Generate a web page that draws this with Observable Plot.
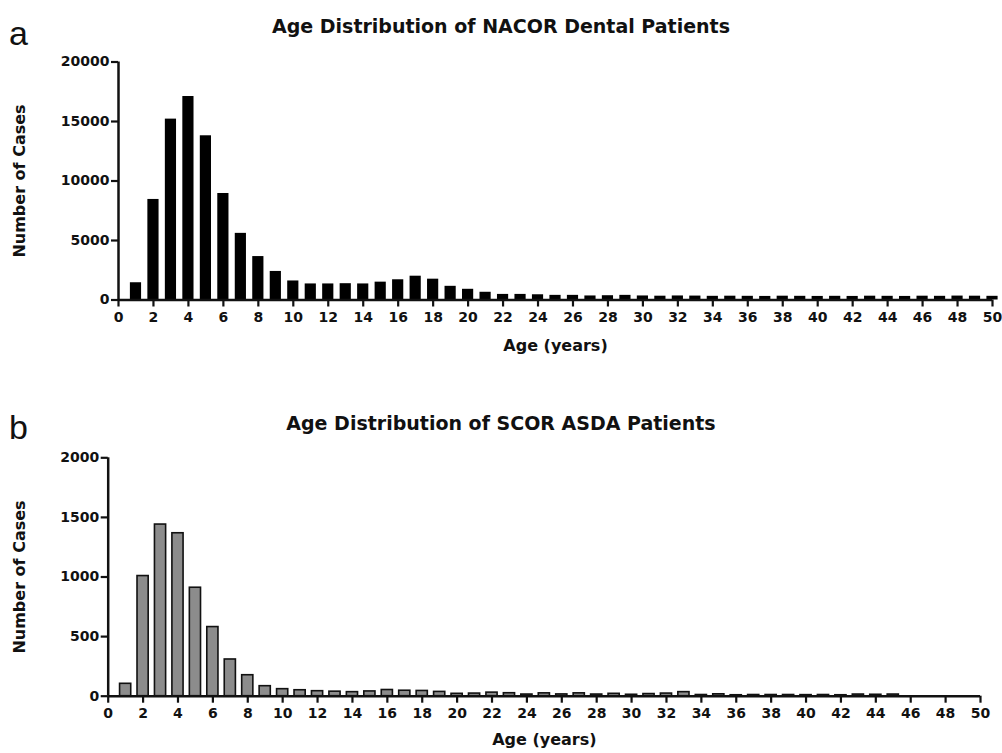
<!DOCTYPE html>
<html>
<head>
<meta charset="utf-8">
<script src="https://cdn.jsdelivr.net/npm/d3@7"></script>
<script src="https://cdn.jsdelivr.net/npm/@observablehq/plot@0.6"></script>
<style>
  body { margin: 0; background: #fff; }
  #wrap { position: relative; width: 1002px; height: 753px; overflow: hidden; background: #fff; }
  .panel { position: absolute; left: 0; }
  .title { position: absolute; left: 0; width: 1002px; text-align: center; font-family: "DejaVu Sans", sans-serif; font-weight: bold; font-size: 19px; color: #111; white-space: nowrap; }
  .letter { position: absolute; font-family: "Liberation Sans", Arial, sans-serif; font-size: 34px; color: #111; line-height: 1; }
</style>
</head>
<body>
<div id="wrap">
  <div class="letter" style="left:9px; top:16px;">a</div>
  <div class="letter" style="left:9px; top:410px;">b</div>
  <div class="title" id="titleA" style="top:15px;"></div>
  <div class="title" id="titleB" style="top:412px;"></div>
  <div class="panel" id="panelA" style="top:0px;"></div>
  <div class="panel" id="panelB" style="top:376px;"></div>
</div>
<script>
// ---- data ----
const ages = [1,2,3,4,5,6,7,8,9,10,11,12,13,14,15,16,17,18,19,20,21,22,23,24,25,26,27,28,29,30,31,32,33,34,35,36,37,38,39,40,41,42,43,44,45,46,47,48,49,50];
const nacorCases = [1450,8450,15200,17100,13800,8950,5600,3650,2400,1600,1350,1350,1370,1350,1500,1700,2000,1750,1150,900,650,470,470,440,390,390,340,360,390,340,320,340,330,310,320,310,300,320,310,300,310,300,320,310,300,320,310,330,320,310];
const scorCases = [104,1008,1440,1367,910,580,308,176,84,59,50,42,38,34,40,52,46,44,36,20,22,30,25,14,24,15,24,14,20,12,18,22,34,10,16,8,10,10,10,9,10,8,14,12,14,0,0,0,0,0];
const xTicks = [0,2,4,6,8,10,12,14,16,18,20,22,24,26,28,30,32,34,36,38,40,42,44,46,48,50];
const nacorYTicks = [0,5000,10000,15000,20000];
const scorYTicks = [0,500,1000,1500,2000];
const titleA = "Age Distribution of NACOR Dental Patients";
const titleB = "Age Distribution of SCOR ASDA Patients";
const xLabel = "Age (years)";
const yLabel = "Number of Cases";

document.getElementById("titleA").textContent = titleA;
document.getElementById("titleB").textContent = titleB;

const nacorData = ages.map((a, i) => ({age: a, value: nacorCases[i]}));
const scorData = ages.map((a, i) => ({age: a, value: scorCases[i]}));

function panel({data, yMax, yTicks, fill, stroke, marginTop, marginBottom, marginLeft, marginRight, height, yLabelDx, xLabelDy}) {
  return Plot.plot({
    width: 1002,
    height,
    marginTop, marginBottom, marginLeft, marginRight,
    style: {fontFamily: "DejaVu Sans, sans-serif", fontWeight: "bold", fontSize: "14px", color: "#111", background: "transparent", overflow: "visible"},
    x: {type: "linear", domain: [0, 50], axis: null},
    y: {type: "linear", domain: [0, yMax], axis: null},
    marks: [
      Plot.rectY(data.filter(d => d.value > 0), {
        x1: d => d.age - 0.32, x2: d => d.age + 0.32, y1: 0, y2: "value",
        fill, stroke: stroke || "none", strokeWidth: stroke ? 1.6 : 0
      }),
      Plot.ruleY([0], {stroke: "#111", strokeWidth: 2.5}),
      Plot.ruleX([0], {stroke: "#111", strokeWidth: 2.5}),
      Plot.axisX(xTicks, {anchor: "bottom", tickSize: 7, tickPadding: 5, strokeWidth: 2.2, stroke: "#111", fill: "#111", fontSize: 14, fontWeight: "bold", label: null, tickFormat: d => String(d)}),
      Plot.axisY(yTicks, {anchor: "left", tickSize: 7, tickPadding: 2, strokeWidth: 2.2, stroke: "#111", fill: "#111", fontSize: 14, fontWeight: "bold", label: null, tickFormat: d => String(d)}),
      Plot.text([yLabel], {frameAnchor: "left", text: d => d, rotate: -90, dx: yLabelDx, lineAnchor: "top", textAnchor: "middle", fontSize: 16, fontWeight: "bold", fill: "#111"}),
      Plot.text([xLabel], {frameAnchor: "bottom", text: d => d, dy: xLabelDy, lineAnchor: "top", textAnchor: "middle", fontSize: 16, fontWeight: "bold", fill: "#111"})
    ]
  });
}

document.getElementById("panelA").appendChild(panel({
  data: nacorData, yMax: 20000, yTicks: nacorYTicks, fill: "#000",
  height: 376, marginTop: 61.5, marginBottom: 76.5, marginLeft: 118, marginRight: 10,
  yLabelDx: -105, xLabelDy: 40
}));
document.getElementById("panelB").appendChild(panel({
  data: scorData, yMax: 2000, yTicks: scorYTicks, fill: "#8c8c8c", stroke: "#111",
  height: 377, marginTop: 81.3, marginBottom: 57.3, marginLeft: 107.7, marginRight: 22,
  yLabelDx: -95, xLabelDy: 37
}));
</script>
</body>
</html>
